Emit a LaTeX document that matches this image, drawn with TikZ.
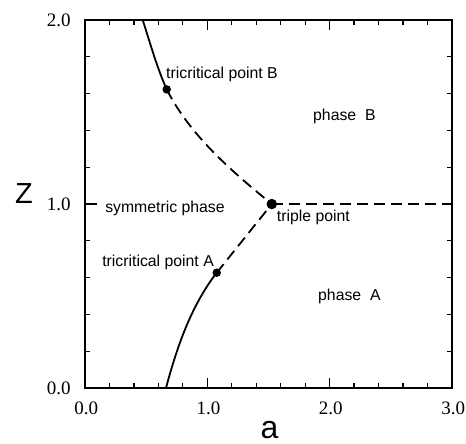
\documentclass[tikz,border=0pt]{standalone}
\usepackage{fontspec}
\setmainfont{Liberation Serif}
\setsansfont{Liberation Sans}

\begin{document}
\begin{tikzpicture}[x=122.3pt,y=184pt,
  every node/.style={inner sep=0pt},
  lbl/.style={font=\sffamily\fontsize{15.8}{18}\selectfont,anchor=base west},
  num/.style={font=\fontsize{19}{21}\selectfont},
  axl/.style={font=\sffamily\fontsize{29}{32}\selectfont},
  frame/.style={line width=2.4pt},
  tick/.style={line width=1.2pt},
  solidb/.style={line width=1.8pt},
  dashb/.style={line width=1.8pt,dash pattern=on 11pt off 6pt},
  dot/.style={circle,fill=black,minimum size=8.5pt},
  bigdot/.style={circle,fill=black,minimum size=10.5pt}]
\useasboundingbox (-0.695,-0.299) rectangle (3.115,2.109);
% ticks and frame
\foreach \x in {0.2,0.4,...,2.81} {
  \draw[tick] (\x,0) -- ++(0pt,5pt);
  \draw[tick] (\x,2) -- ++(0pt,-5pt);
}
\foreach \x in {1,2} {
  \draw[tick] (\x,0) -- ++(0pt,10pt);
  \draw[tick] (\x,2) -- ++(0pt,-10pt);
}
\foreach \z in {0.2,0.4,...,1.81} {
  \draw[tick] (0,\z) -- ++(5pt,0pt);
  \draw[tick] (3,\z) -- ++(-5pt,0pt);
}
\draw[tick] (0,1) -- ++(12pt,0pt);
\draw[frame] (0,0) rectangle (3,2);
% special points
\node[dot] (tcB) at (0.668,1.623) {};
\node[dot] (tcA) at (1.077,0.627) {};
\node[bigdot] (tp) at (1.527,1.0) {};
\coordinate (top) at (0.472,2);
\coordinate (bot) at (0.662,0);
\coordinate (rim) at (3,1);
% phase boundaries
\draw[solidb] (top) .. controls (0.532,1.876) and (0.588,1.742) .. (tcB.center);
\draw[dashb] (tcB.center) .. controls (0.854,1.382) and (1.163,1.197) .. (tp.center);
\draw[solidb] (bot) .. controls (0.751,0.221) and (0.866,0.446) .. (tcA.center);
\draw[dashb] (tcA.center) -- (tp.center);
\draw[dashb] (tp.center) -- (rim);
% labels
\node[lbl] (labB) at ([shift={(-0.7pt,10.8pt)}]tcB.center) {tricritical point B};
\node[lbl,anchor=base east] (labA) at ([shift={(-2.7pt,6pt)}]tcA.center) {tricritical point A};
\node[lbl] (labtp) at ([shift={(5pt,-17.7pt)}]tp.center) {triple point};
\node[lbl] (sym) at (0.164,0.953) {symmetric phase};
\node[lbl] (phB) at (1.864,1.454) {phase\ \ B};
\node[lbl] (phA) at (1.905,0.478) {phase\ \ A};
% axes
\foreach \z/\t in {0/0.0,1/1.0,2/2.0}
  \node[num,anchor=east] (y\z) at (-0.115,\z) {\t};
\foreach \x/\t in {0/0.0,1/1.0,2/2.0,3/3.0}
  \node[num,anchor=north] (x\x) at (\x+0.01,-0.074) {\t};
\node[axl] (zlab) at (-0.499,1.06) {Z};
\node[axl,font=\sffamily\fontsize{32}{34}\selectfont] (alab) at (1.509,-0.228) {a};
\end{tikzpicture}
\end{document}
